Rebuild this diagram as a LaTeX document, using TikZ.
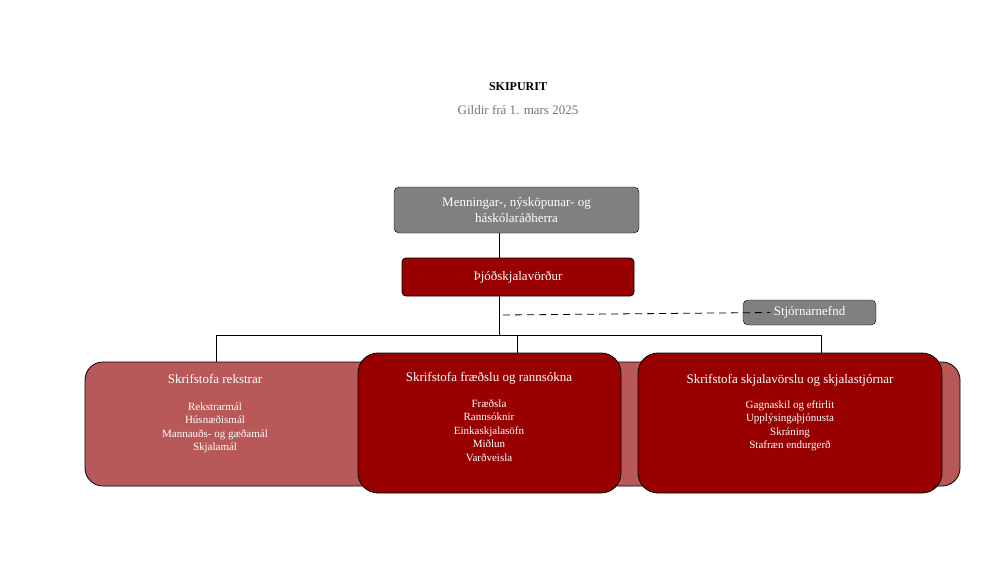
\documentclass[tikz,border=0pt]{standalone}
\usepackage{fontspec}
\setmainfont{Liberation Serif}
\definecolor{dred}{HTML}{990000}
\definecolor{lred}{HTML}{B85858}
\definecolor{gbox}{HTML}{808080}
\begin{document}
\begin{tikzpicture}[x=1pt,y=-1pt,
  gray box/.style={fill=gbox,text=white,rounded corners=5pt},
  conn/.style={black,line width=0.8pt},
  txt/.style={text=white,align=center,font=\fontsize{11}{13.5}\selectfont},
  head/.style={text=white,font=\fontsize{13}{15}\selectfont}]
\useasboundingbox (0,0) rectangle (1000,563);
\node[font=\bfseries\fontsize{12}{14}\selectfont] (title) at (518,87) {SKIPURIT};
\node[text=gbox!90!black,font=\fontsize{13}{15}\selectfont] (sub) at (518,110) {Gildir frá 1. mars 2025};
% top boxes
\draw[gray box] (394,187) rectangle (639,233);
\node[text=white,align=center,font=\fontsize{13}{16}\selectfont] (min) at (516.5,210) {Menningar-, nýsköpunar- og\\háskólaráðherra};
\draw[fill=dred,draw=black,rounded corners=4pt,line width=0.8pt] (402,258) rectangle (634,296);
\node[head] (thj) at (518,277) {Þjóðskjalavörður};
\draw[gray box] (743,300) rectangle (876,325);
\node[head] (stj) at (809.5,312.5) {Stjórnarnefnd};
\coordinate (a1) at (499,233); \coordinate (a2) at (499,258);
\coordinate (b1) at (499,296); \coordinate (b2) at (499,335);
\draw[conn] (a1) -- (a2);
\draw[conn] (b1) -- (b2);
\coordinate (d1) at (503,315);
\draw[conn,dashed,dash pattern=on 7pt off 5pt] (d1) -- (stj.west);
\coordinate (h1) at (216,335); \coordinate (h2) at (821,335);
\draw[conn] (216,362) -- (h1) -- (h2) -- (821,354);
\draw[conn] (517,335) -- (517,354);
% lower boxes
\draw[fill=lred,draw=black,rounded corners=18pt,line width=0.8pt] (85,362) rectangle (420,486);
\draw[fill=lred,draw=black,rounded corners=18pt,line width=0.8pt] (600,362) rectangle (960,486);
\draw[fill=dred,draw=black,rounded corners=20pt,line width=0.8pt] (358,353) rectangle (621,493);
\draw[fill=dred,draw=black,rounded corners=20pt,line width=0.8pt] (638,353) rectangle (942,493);
\node[head] (h1t) at (215,379) {Skrifstofa rekstrar};
\node[txt,anchor=north] (l1) at (215,399) {Rekstrarmál\\Húsnæðismál\\Mannauðs- og gæðamál\\Skjalamál};
\node[head] (h2t) at (489,378) {Skrifstofa fræðslu og rannsókna};
\node[txt,anchor=north] (l2) at (489,396) {Fræðsla\\Rannsóknir\\Einkaskjalasöfn\\Miðlun\\Varðveisla};
\node[head] (h3t) at (790,380) {Skrifstofa skjalavörslu og skjalastjórnar};
\node[txt,anchor=north] (l3) at (790,397) {Gagnaskil og eftirlit\\Upplýsingaþjónusta\\Skráning\\Stafræn endurgerð};
\end{tikzpicture}
\end{document}
